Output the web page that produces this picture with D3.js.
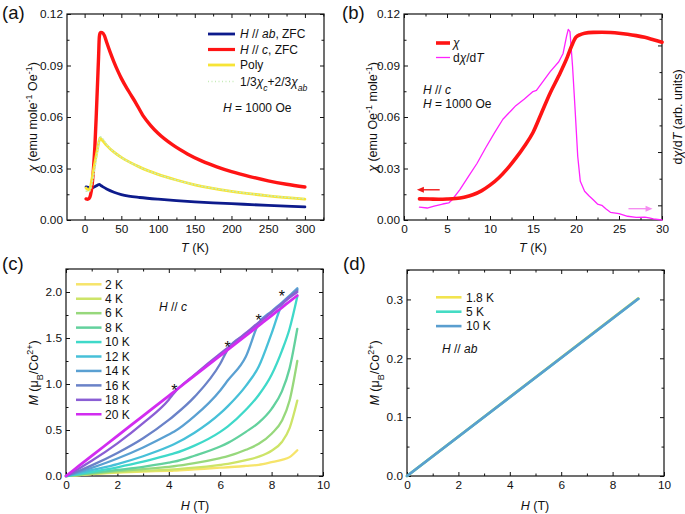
<!DOCTYPE html>
<html>
<head>
<meta charset="utf-8">
<script src="https://cdn.jsdelivr.net/npm/d3@7"></script>
<style>
body { margin: 0; background: #fff; }
svg text { font-family: "Liberation Sans", Arial, sans-serif; }
</style>
</head>
<body>
<script>
// ---- panel (a): chi vs T, 1000 Oe ----
var aT_ab   = [2,5,8,10,13,16,18,20,22,25,30,40,50,60,75,100,125,150,175,200,250,300];
var aChi_ab = [0.0193,0.0190,0.0187,0.0186,0.0192,0.0199,0.0204,0.0207,0.0201,0.0193,0.0181,0.0162,0.0148,0.0139,0.0131,0.0121,0.0113,0.0106,0.0100,0.0095,0.0085,0.0076];
var aT_c    = [2,4,6,8,10,12,14,16,18,19,20,21,22,24,27,30,35,40,45,50,60,70,80,90,100,120,140,160,180,200,225,250,275,300];
var aChi_c  = [0.0123,0.0121,0.0125,0.0145,0.0196,0.0295,0.043,0.0625,0.084,0.095,0.1065,0.1088,0.1093,0.1092,0.1074,0.1035,0.0975,0.092,0.087,0.0825,0.075,0.068,0.0605,0.055,0.0505,0.0437,0.0385,0.0343,0.031,0.0282,0.0253,0.0228,0.0208,0.0192];
var aT_p    = [2,4,6,8,10,12,14,16,18,20,21,22,25,30,40,50,60,75,100,125,150,200,250,300];
var aChi_p  = [0.0186,0.0178,0.0175,0.0195,0.024,0.029,0.0335,0.038,0.0425,0.0465,0.0477,0.0474,0.046,0.0435,0.0395,0.0365,0.034,0.0308,0.0266,0.0233,0.0205,0.0167,0.0141,0.0122];
var aT_calc   = [2,6,10,14,18,21,25,30,40,50,75,100,150,200,250,300];
var aChi_calc = [0.0168,0.0165,0.021,0.030,0.041,0.0485,0.0472,0.044,0.0396,0.0365,0.0308,0.0266,0.0206,0.0168,0.0142,0.0123];

// ---- panel (b): chi and dchi/dT, H // c ----
var bT_chi = [1.8,3,4,5,6,7,8,9,10,11,12,13,14,15,16,17,18,19,19.5,20,20.5,21,22,23,24,25,26,27,28,29,30];
var bChi   = [0.0123,0.0122,0.0121,0.0122,0.0125,0.0133,0.0147,0.0170,0.0203,0.0245,0.0298,0.036,0.043,0.051,0.0625,0.074,0.084,0.095,0.1015,0.1065,0.108,0.1088,0.1093,0.1094,0.1092,0.1088,0.1082,0.1074,0.1064,0.105,0.1035];
var bT_d   = [1.8,2.7,3.5,4.5,5.2,5.6,6.5,7.5,8.5,9.5,10.5,11.5,12.5,13,14,15,15.4,16,17,18,18.5,18.9,19.1,19.3,19.6,19.9,20.2,20.5,21,21.5,22,22.5,23,23.5,24,25,26,27,28,28.5,29,30];
var bDchi  = [-0.07,-0.10,-0.03,0.05,0.09,0.21,0.59,1.09,1.58,2.16,2.71,3.23,3.57,3.74,3.99,4.27,4.31,4.58,5.02,5.39,5.70,6.34,6.60,6.52,5.21,3.57,1.84,0.90,0.53,0.36,0.21,0.05,0.0,-0.14,-0.26,-0.31,-0.41,-0.45,-0.44,-0.47,-0.51,-0.55];
// arrows: [from T, to T, chi level]
var bArrowChi  = [4.15, 1.5, 0.0176];
var bArrowDchi = [26.1, 28.9, 0.0066];

// ---- panel (c): M vs H, H // c ----
var cLabels = ["2 K","4 K","6 K","8 K","10 K","12 K","14 K","16 K","18 K","20 K"];
var cColors = ["#f6e46a","#cde468","#97d87c","#63d19d","#3fd9c9","#47c0d8","#5aa0d2","#6a82c8","#8a5ed4","#d22cf0"];
var cH   = [0,0.5,1,2,3,4,4.2,5,6,6.3,7,7.5,8,8.4,8.7,9];
var m2K  = [0,0.010,0.020,0.036,0.048,0.056,0.058,0.072,0.090,0.095,0.110,0.122,0.150,0.175,0.205,0.28];
var m4K  = [0,0.011,0.022,0.042,0.057,0.068,0.071,0.090,0.122,0.133,0.172,0.210,0.275,0.37,0.52,0.82];
var m6K  = [0,0.013,0.027,0.052,0.075,0.100,0.106,0.140,0.195,0.215,0.285,0.35,0.46,0.60,0.82,1.25];
var m8K  = [0,0.016,0.033,0.066,0.100,0.145,0.155,0.220,0.320,0.360,0.480,0.58,0.73,0.92,1.17,1.60];
var m10K = [0,0.022,0.046,0.095,0.155,0.230,0.245,0.330,0.480,0.540,0.720,0.88,1.10,1.36,1.60,1.95];
var m12K = [0,0.030,0.063,0.130,0.215,0.320,0.345,0.470,0.680,0.760,0.980,1.19,1.55,1.86,1.95,2.03];
var m14K = [0,0.042,0.088,0.190,0.310,0.450,0.480,0.650,0.930,1.040,1.300,1.66,1.79,1.885,1.96,2.04];
var m16K = [0,0.055,0.115,0.250,0.410,0.610,0.655,0.860,1.220,1.380,1.545,1.66,1.78,1.875,1.95,2.02];
var m18K = [0,0.080,0.165,0.355,0.575,0.830,0.900,1.100,1.330,1.395,1.555,1.67,1.78,1.870,1.94,2.00];
var m20K = [0,0.109,0.218,0.436,0.654,0.872,0.916,1.090,1.308,1.373,1.526,1.635,1.744,1.831,1.897,1.962];
var cSeries = [m2K,m4K,m6K,m8K,m10K,m12K,m14K,m16K,m18K,m20K];
var cStarH = [4.22, 6.29, 7.49, 8.40];
var cStarM = [0.975, 1.436, 1.74, 2.00];

// ---- panel (d): M vs H, H // ab ----
var dLabels = ["1.8 K","5 K","10 K"];
var dColors = ["#f2e44f","#45dcc4","#5a9ecf"];
var dH   = [0, 9];
var dM18 = [0, 0.302];
var dM5  = [0, 0.301];
var dM10 = [0, 0.301];

var svg = d3.select("body").append("svg")
    .attr("width", 685)
    .attr("height", 514);

function rich(t, parts) {
  parts.forEach(function(p) {
    var s = t.append("tspan").text(p[0]);
    var st = p[1] || "";
    if (st.indexOf("i") >= 0) s.attr("font-style", "italic");
    if (st.indexOf("sub") >= 0) s.attr("baseline-shift", "sub").style("font-size", "72%");
    if (st.indexOf("sup") >= 0) s.attr("baseline-shift", "super").style("font-size", "72%");
  });
  return t;
}

// box with inward ticks on all four sides
function panel(o) {
  var g = svg.append("g").attr("transform", "translate(" + o.left + "," + o.top + ")");
  var w = o.right - o.left, h = o.bottom - o.top;
  var x = d3.scaleLinear().domain(o.xd).range([0, w]);
  var y = d3.scaleLinear().domain(o.yd).range([h, 0]);
  var inX = function(v) { return v >= o.xd[0] && v <= o.xd[1]; };
  var inY = function(v) { return v >= o.yd[0] && v <= o.yd[1]; };
  var xMaj = o.xMaj.filter(inX), xMin = o.xMin.filter(inX);
  var yMaj = o.yMaj.filter(inY), yMin = o.yMin.filter(inY);

  function ax(a, tr, vals, len, fmt, pad) {
    var s = g.append("g").attr("transform", tr)
      .call(a.tickValues(vals).tickSizeInner(-len).tickSizeOuter(0).tickPadding(pad || 4).tickFormat(fmt));
    s.select(".domain").remove();
    s.attr("font-size", 11.8).attr("font-family", null).attr("color", "#111");
    return s;
  }
  var blank = function() { return ""; };
  ax(d3.axisBottom(x), "translate(0," + h + ")", xMaj, 4, o.xf, 5);
  ax(d3.axisBottom(x), "translate(0," + h + ")", xMin, 2.5, blank);
  ax(d3.axisTop(x), "translate(0,0)", xMaj, 4, blank);
  ax(d3.axisTop(x), "translate(0,0)", xMin, 2.5, blank);
  ax(d3.axisLeft(y), "translate(0,0)", yMaj, 4, o.yf, 4);
  ax(d3.axisLeft(y), "translate(0,0)", yMin, 2.5, blank);
  if (!o.noRight) {
    ax(d3.axisRight(y), "translate(" + w + ",0)", yMaj, 4, blank);
    ax(d3.axisRight(y), "translate(" + w + ",0)", yMin, 2.5, blank);
  }
  g.append("rect").attr("width", w).attr("height", h)
    .attr("fill", "none").attr("stroke", "#111").attr("stroke-width", 1.2);
  var plot = g.append("g");
  return { g: g, plot: plot, x: x, y: y, w: w, h: h };
}

function drawLine(p, xs, ys, color, width, curve, dash, yScale) {
  var ysc = yScale || p.y;
  var pts = xs.map(function(v, i) { return [v, ys[i]]; });
  var line = d3.line()
    .x(function(d) { return p.x(d[0]); })
    .y(function(d) { return ysc(d[1]); })
    .curve(curve || d3.curveLinear);
  var path = p.plot.append("path").datum(pts)
    .attr("fill", "none")
    .attr("stroke", color)
    .attr("stroke-width", width)
    .attr("stroke-linejoin", "round")
    .attr("stroke-linecap", "round")
    .attr("d", line);
  if (dash) path.attr("stroke-dasharray", dash);
  return path;
}

function fmt2(d) { return d3.format(".2f")(d); }
function fmt1(d) { return d3.format(".1f")(d); }
function fmt0(d) { return d3.format("d")(d); }

var FS = 12;

// ================= (a) =================
var pa = panel({
  left: 67, right: 324, top: 14, bottom: 220,
  xd: [-24, 326], yd: [0, 0.12],
  xMaj: d3.range(0, 301, 50), xMin: d3.range(-25, 330, 50),
  yMaj: [0, 0.03, 0.06, 0.09, 0.12], yMin: [0.015, 0.045, 0.075, 0.105],
  xf: fmt0, yf: fmt2
});
drawLine(pa, aT_ab, aChi_ab, "#0d1b8c", 2.8, d3.curveMonotoneX);
drawLine(pa, aT_c, aChi_c, "#ff1414", 3.4, d3.curveMonotoneX);
drawLine(pa, aT_p, aChi_p, "#f7e436", 2.8, d3.curveMonotoneX);
drawLine(pa, aT_calc, aChi_calc, "#c6ecb8", 1.4, d3.curveMonotoneX, "1,2.5");

var legA = [
  { parts: [["H", "i"], [" // "], ["ab", "i"], [", ZFC"]], color: "#0d1b8c", w: 2.8 },
  { parts: [["H", "i"], [" // "], ["c", "i"], [", ZFC"]], color: "#ff1414", w: 3.2 },
  { parts: [["Poly"]], color: "#f7e436", w: 2.8 },
  { parts: [["1/3"], ["\u03c7", "i"], ["c", "isub"], ["+2/3"], ["\u03c7", "i"], ["ab", "isub"]], color: "#c6ecb8", w: 1.4, dash: "1,2.5" }
];
var legArows = [34, 49.5, 65, 81.5];
legA.forEach(function(e, i) {
  var l = svg.append("line").attr("x1", 208).attr("x2", 235)
    .attr("y1", legArows[i]).attr("y2", legArows[i])
    .attr("stroke", e.color).attr("stroke-width", e.w);
  if (e.dash) l.attr("stroke-dasharray", e.dash);
  rich(svg.append("text").attr("x", 240).attr("y", legArows[i] + 4.3).attr("font-size", FS).attr("fill", "#111"), e.parts);
});
rich(svg.append("text").attr("x", 223).attr("y", 112).attr("font-size", FS).attr("fill", "#111"),
  [["H", "i"], [" = 1000 Oe"]]);

// ================= (b) =================
var pb = panel({
  left: 404, right: 662, top: 14, bottom: 220,
  xd: [0, 30], yd: [0, 0.12],
  xMaj: d3.range(0, 31, 5), xMin: d3.range(2.5, 30, 5),
  yMaj: [0, 0.03, 0.06, 0.09, 0.12], yMin: [0.015, 0.045, 0.075, 0.105],
  xf: fmt0, yf: fmt2, noRight: true
});
var yRight = d3.scaleLinear().domain([-0.55, 7.18]).range([pb.h, 0]);
var rMaj = pb.g.append("g").attr("transform", "translate(" + pb.w + ",0)")
  .call(d3.axisRight(yRight).tickValues([0, 2, 4, 6]).tickSizeInner(-4).tickSizeOuter(0).tickFormat(""));
rMaj.select(".domain").remove();
var rMin = pb.g.append("g").attr("transform", "translate(" + pb.w + ",0)")
  .call(d3.axisRight(yRight).tickValues([1, 3, 5, 7]).tickSizeInner(-2.5).tickSizeOuter(0).tickFormat(""));
rMin.select(".domain").remove();
rMaj.attr("color", "#111"); rMin.attr("color", "#111");

drawLine(pb, bT_d, bDchi, "#ff22ff", 1.3, d3.curveLinear, null, yRight);
drawLine(pb, bT_chi, bChi, "#ff1414", 3.6, d3.curveMonotoneX);

function arrow(p, a, color) {
  var x1 = p.x(a[0]), x2 = p.x(a[1]), yy = p.y(a[2]);
  var dir = x2 > x1 ? 1 : -1;
  p.plot.append("line").attr("x1", x1).attr("x2", x2 - dir * 5).attr("y1", yy).attr("y2", yy)
    .attr("stroke", color).attr("stroke-width", 1.4);
  p.plot.append("path")
    .attr("d", "M" + x2 + "," + yy + "L" + (x2 - dir * 7) + "," + (yy - 3) + "L" + (x2 - dir * 7) + "," + (yy + 3) + "Z")
    .attr("fill", color);
}
arrow(pb, bArrowChi, "#f01818");
arrow(pb, bArrowDchi, "#f58cf0");

svg.append("line").attr("x1", 436).attr("x2", 450).attr("y1", 43).attr("y2", 43)
  .attr("stroke", "#ff1414").attr("stroke-width", 3.6);
svg.append("line").attr("x1", 436).attr("x2", 450).attr("y1", 57.5).attr("y2", 57.5)
  .attr("stroke", "#ff22ff").attr("stroke-width", 1.3);
rich(svg.append("text").attr("x", 453).attr("y", 47).attr("font-size", FS).attr("fill", "#111"), [["\u03c7", "i"]]);
rich(svg.append("text").attr("x", 453).attr("y", 61.5).attr("font-size", FS).attr("fill", "#111"),
  [["d"], ["\u03c7", "i"], ["/d"], ["T", "i"]]);
rich(svg.append("text").attr("x", 423).attr("y", 94).attr("font-size", FS).attr("fill", "#111"),
  [["H", "i"], [" // "], ["c", "i"]]);
rich(svg.append("text").attr("x", 423).attr("y", 107.5).attr("font-size", FS).attr("fill", "#111"),
  [["H", "i"], [" = 1000 Oe"]]);

// ================= (c) =================
var pc = panel({
  left: 66, right: 323, top: 269, bottom: 476,
  xd: [0, 10], yd: [0, 2.25],
  xMaj: d3.range(0, 11, 2), xMin: d3.range(1, 10, 2),
  yMaj: [0, 0.5, 1, 1.5, 2], yMin: [0.25, 0.75, 1.25, 1.75, 2.25],
  xf: fmt0, yf: fmt1
});
cSeries.forEach(function(m, i) {
  drawLine(pc, cH, m, cColors[i], i === 9 ? 2.8 : 2.3, d3.curveMonotoneX);
});
cStarH.forEach(function(h, i) {
  pc.plot.append("text").attr("x", pc.x(h)).attr("y", pc.y(cStarM[i]))
    .attr("dy", "0.6em").attr("text-anchor", "middle")
    .attr("font-size", 16).attr("fill", "#111").text("*");
});
cLabels.forEach(function(lab, i) {
  var yy = 284.3 + 14.44 * i;
  svg.append("line").attr("x1", 76).attr("x2", 101.5).attr("y1", yy).attr("y2", yy)
    .attr("stroke", cColors[i]).attr("stroke-width", 2.5);
  svg.append("text").attr("x", 105).attr("y", yy + 4.3).attr("font-size", FS).attr("fill", "#111").text(lab);
});
rich(svg.append("text").attr("x", 159).attr("y", 311).attr("font-size", FS).attr("fill", "#111"),
  [["H", "i"], [" // "], ["c", "i"]]);

// ================= (d) =================
var pd = panel({
  left: 407, right: 664, top: 270, bottom: 476,
  xd: [0, 10], yd: [0, 0.35],
  xMaj: d3.range(0, 11, 2), xMin: d3.range(1, 10, 2),
  yMaj: [0, 0.1, 0.2, 0.3], yMin: [0.05, 0.15, 0.25, 0.35],
  xf: fmt0, yf: fmt1
});
drawLine(pd, dH, dM18, dColors[0], 2.6);
drawLine(pd, dH, dM5, dColors[1], 2.6);
drawLine(pd, dH, dM10, dColors[2], 2.6);
dLabels.forEach(function(lab, i) {
  var yy = 297.3 + 14.4 * i;
  svg.append("line").attr("x1", 436).attr("x2", 461.5).attr("y1", yy).attr("y2", yy)
    .attr("stroke", dColors[i]).attr("stroke-width", 2.6);
  svg.append("text").attr("x", 466).attr("y", yy + 4.3).attr("font-size", FS).attr("fill", "#111").text(lab);
});
rich(svg.append("text").attr("x", 442).attr("y", 353).attr("font-size", FS).attr("fill", "#111"),
  [["H", "i"], [" // "], ["ab", "i"]]);

// ================= axis titles & panel tags =================
function yTitle(x, y, parts, rot) {
  rich(svg.append("text")
    .attr("transform", "translate(" + x + "," + y + ") rotate(" + (rot || -90) + ")")
    .attr("text-anchor", "middle").attr("font-size", 12.5).attr("fill", "#111"), parts);
}
yTitle(37, 117, [["\u03c7", "i"], [" (emu mole"], ["-1", "sup"], [" Oe"], ["-1", "sup"], [")"]]);
yTitle(377, 117, [["\u03c7", "i"], [" (emu Oe"], ["-1", "sup"], [" mole"], ["-1", "sup"], [")"]]);
yTitle(682, 117, [["d"], ["\u03c7", "i"], ["/d"], ["T", "i"], [" (arb. units)"]]);
yTitle(38, 373, [["M", "i"], [" (\u03bc"], ["B", "sub"], ["/Co"], ["2+", "sup"], [")"]]);
yTitle(379, 373, [["M", "i"], [" (\u03bc"], ["B", "sub"], ["/Co"], ["2+", "sup"], [")"]]);

function xTitle(x, y, parts) {
  rich(svg.append("text").attr("x", x).attr("y", y).attr("text-anchor", "middle")
    .attr("font-size", 12.5).attr("fill", "#111"), parts);
}
xTitle(195, 252, [["T", "i"], [" (K)"]]);
xTitle(533, 252, [["T", "i"], [" (K)"]]);
xTitle(195, 510, [["H", "i"], [" (T)"]]);
xTitle(535, 510, [["H", "i"], [" (T)"]]);

[["(a)", 2, 19], ["(b)", 342, 19], ["(c)", 2, 270], ["(d)", 343, 270]].forEach(function(t) {
  svg.append("text").attr("x", t[1]).attr("y", t[2]).attr("font-size", 18.5).attr("fill", "#111").text(t[0]);
});
</script>
</body>
</html>
